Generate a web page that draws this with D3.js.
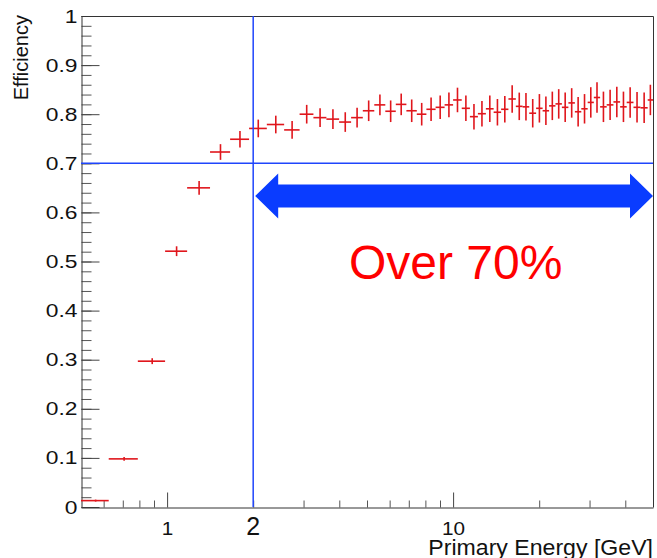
<!DOCTYPE html>
<html>
<head>
<meta charset="utf-8">
<script src="https://cdn.jsdelivr.net/npm/d3@7"></script>
<style>
  body { margin: 0; background: #fff; }
  svg { display: block; font-family: 'Liberation Sans', Arial, sans-serif; }
</style>
</head>
<body>
<svg id="chart" width="657" height="558"></svg>
<script>
// bin edges in GeV (53 bins)
var binEdges = [0.5, 0.625, 0.79, 0.984, 1.175, 1.413, 1.661, 1.935, 2.232, 2.566,
  2.906, 3.248, 3.606, 3.995, 4.399, 4.834, 5.302, 5.794, 6.304, 6.866,
  7.466, 8.066, 8.686, 9.339, 10.0, 10.72, 11.45, 12.21, 13.02, 13.86,
  14.72, 15.61, 16.57, 17.50, 18.46, 19.51, 20.56, 21.66, 22.80, 24.01,
  25.30, 26.66, 28.07, 29.55, 31.05, 32.66, 34.44, 36.36, 38.37, 40.46,
  42.73, 45.21, 47.91, 50];
var efficiency = [0.013, 0.098, 0.297, 0.521, 0.650, 0.723, 0.749, 0.771, 0.779, 0.768,
  0.800, 0.793, 0.790, 0.784, 0.793, 0.807, 0.819, 0.806, 0.820, 0.807,
  0.800, 0.810, 0.814, 0.819, 0.829, 0.812, 0.795, 0.801, 0.811, 0.804,
  0.810, 0.831, 0.816, 0.815, 0.802, 0.812, 0.807, 0.817, 0.821, 0.814,
  0.823, 0.805, 0.811, 0.824, 0.834, 0.815, 0.819, 0.825, 0.815, 0.824,
  0.814, 0.813, 0.829];
var effError = [0.002, 0.004, 0.006, 0.010, 0.014, 0.016, 0.017, 0.018, 0.018, 0.018,
  0.019, 0.019, 0.020, 0.020, 0.020, 0.021, 0.021, 0.022, 0.022, 0.023,
  0.023, 0.024, 0.024, 0.025, 0.025, 0.026, 0.026, 0.026, 0.027, 0.027,
  0.027, 0.028, 0.028, 0.028, 0.029, 0.029, 0.029, 0.029, 0.030, 0.030,
  0.030, 0.030, 0.030, 0.031, 0.031, 0.031, 0.031, 0.031, 0.031, 0.031,
  0.031, 0.031, 0.031];

var yTicks = [0, 0.1, 0.2, 0.3, 0.4, 0.5, 0.6, 0.7, 0.8, 0.9, 1];
var yTickLabels = ['0', '0.1', '0.2', '0.3', '0.4', '0.5', '0.6', '0.7', '0.8', '0.9', '1'];
var xTicks = [1, 10];
var xTickLabels = ['1', '10'];
var xMinorTicks = [0.6, 0.7, 0.8, 0.9, 2, 3, 4, 5, 6, 7, 8, 9, 20, 30, 40];

var energyCut = 2;     // vertical line
var effCut = 0.7;      // horizontal line

var svg = d3.select('#chart');
var L = 81, R = 653, T = 16, B = 507;

var scX = d3.scaleLog().domain([0.5, 50]).range([L, R]);
var scY = d3.scaleLinear().domain([0, 1]).range([B, T]);

function stretch(sel, k) {
  sel.each(function () {
    var w = this.getComputedTextLength();
    d3.select(this).attr('textLength', w * k).attr('lengthAdjust', 'spacingAndGlyphs');
  });
}

// y axis (ticks inside the frame)
var yMinor = d3.range(0, 1.001, 0.02);
svg.append('g')
  .attr('transform', 'translate(' + (L + 0.5) + ',0)')
  .call(d3.axisLeft(scY).tickValues(yMinor).tickSize(-10).tickSizeOuter(0).tickFormat(''))
  .call((g) => g.selectAll('line').attr('stroke', '#555'))
  .call((g) => g.select('.domain').remove());

var yAx = svg.append('g')
  .attr('transform', 'translate(' + (L + 0.5) + ',0)')
  .call(d3.axisLeft(scY).tickValues(yTicks).tickSize(-18).tickSizeOuter(0).tickPadding(4)
    .tickFormat((d, i) => yTickLabels[i]));
yAx.selectAll('line').attr('stroke', '#444');
yAx.select('.domain').attr('stroke', '#333');
yAx.selectAll('text')
  .attr('font-size', 19)
  .attr('font-family', "'Liberation Sans', Arial, sans-serif")
  .attr('fill', '#111')
  .call(stretch, 1.2);

// x axis
svg.append('g')
  .attr('transform', 'translate(0,' + (B + 0.5) + ')')
  .call(d3.axisBottom(scX).tickValues(xMinorTicks).tickSize(-7).tickSizeOuter(0).tickFormat(''))
  .call((g) => g.selectAll('line').attr('stroke', '#555'))
  .call((g) => g.select('.domain').remove());

var xAx = svg.append('g')
  .attr('transform', 'translate(0,' + (B + 0.5) + ')')
  .call(d3.axisBottom(scX).tickValues(xTicks).tickSize(-15).tickSizeOuter(0).tickPadding(15)
    .tickFormat((d, i) => xTickLabels[i]));
xAx.selectAll('line').attr('stroke', '#444');
xAx.select('.domain').attr('stroke', '#333');
xAx.selectAll('text')
  .attr('font-size', 18)
  .attr('font-family', "'Liberation Sans', Arial, sans-serif")
  .attr('fill', '#111')
  .call(stretch, 1.15);

// frame top / right
svg.append('path')
  .attr('d', 'M' + (L + 0.5) + ' ' + (T + 0.5) + ' H' + (R + 0.5) + ' V' + (B + 0.5))
  .attr('fill', 'none')
  .attr('stroke', '#333');

// axis titles
svg.append('text')
  .attr('x', R)
  .attr('y', 555)
  .attr('text-anchor', 'end')
  .attr('font-size', 22)
  .attr('fill', '#111')
  .text('Primary Energy [GeV]')
  .call(stretch, 1.05);

svg.append('text')
  .attr('transform', 'translate(28,15) rotate(-90)')
  .attr('text-anchor', 'end')
  .attr('font-size', 20)
  .attr('fill', '#111')
  .text('Efficiency');

// data points with error bars
var pts = efficiency.map((v, i) => ({
  lo: binEdges[i],
  hi: binEdges[i + 1],
  x: (binEdges[i] + binEdges[i + 1]) / 2,
  v: v,
  e: effError[i]
}));

var gp = svg.append('g')
  .attr('stroke', '#e0161c')
  .attr('stroke-width', 1.6)
  .attr('fill', 'none');
gp.selectAll('line.h')
  .data(pts)
  .enter()
  .append('line')
  .attr('class', 'h')
  .attr('x1', (d) => scX(d.lo))
  .attr('x2', (d) => scX(d.hi))
  .attr('y1', (d) => scY(d.v))
  .attr('y2', (d) => scY(d.v));
gp.selectAll('line.v')
  .data(pts)
  .enter()
  .append('line')
  .attr('class', 'v')
  .attr('x1', (d) => scX(d.x))
  .attr('x2', (d) => scX(d.x))
  .attr('y1', (d) => scY(d.v - d.e))
  .attr('y2', (d) => scY(d.v + d.e));

// cut lines
svg.append('line')
  .attr('x1', scX(energyCut)).attr('x2', scX(energyCut))
  .attr('y1', T).attr('y2', B)
  .attr('stroke', '#1f45fc').attr('stroke-width', 1.5);
svg.append('line')
  .attr('x1', L).attr('x2', R)
  .attr('y1', scY(effCut)).attr('y2', scY(effCut))
  .attr('stroke', '#1f45fc').attr('stroke-width', 1.5);

// double arrow
var ax0 = scX(energyCut) + 2, ax1 = scX(50), ay = 196;
var sh = 11.5, hl = 23, hh = 22.5;
svg.append('path')
  .attr('d', 'M' + ax0 + ' ' + ay +
    ' L' + (ax0 + hl) + ' ' + (ay - hh) +
    ' L' + (ax0 + hl) + ' ' + (ay - sh) +
    ' L' + (ax1 - hl) + ' ' + (ay - sh) +
    ' L' + (ax1 - hl) + ' ' + (ay - hh) +
    ' L' + ax1 + ' ' + ay +
    ' L' + (ax1 - hl) + ' ' + (ay + hh) +
    ' L' + (ax1 - hl) + ' ' + (ay + sh) +
    ' L' + (ax0 + hl) + ' ' + (ay + sh) +
    ' L' + (ax0 + hl) + ' ' + (ay + hh) + ' Z')
  .attr('fill', '#0a3cff');

// annotations
svg.append('text')
  .attr('x', scX(energyCut))
  .attr('y', 535)
  .attr('text-anchor', 'middle')
  .attr('font-size', 25)
  .attr('fill', '#111')
  .text('2');

svg.append('text')
  .attr('x', 349)
  .attr('y', 279)
  .attr('font-size', 48)
  .attr('fill', '#ff0000')
  .text('Over 70%');
</script>
</body>
</html>
